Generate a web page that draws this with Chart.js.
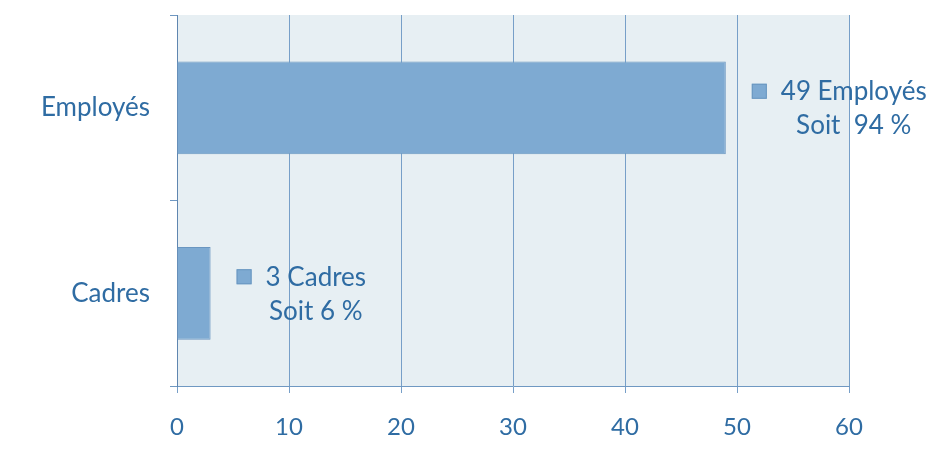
<!DOCTYPE html>
<html>
<head>
<meta charset="utf-8">
<script src="https://cdn.jsdelivr.net/npm/chart.js@4"></script>
<style>
  html, body { margin: 0; padding: 0; background: #fff; }
  #wrap { width: 931px; height: 455px; }
</style>
</head>
<body>
<div id="wrap"><canvas id="chart" width="931" height="455"></canvas></div>
<script>
const categories = ['Employés', 'Cadres'];
const counts = [49, 3];
const labelLines = [
    ['49 Employés', 'Soit  94 %'],
    ['3 Cadres', 'Soit 6 %'],
];
const xTicks = [0, 10, 20, 30, 40, 50, 60];

const textColor = '#2f6ca3';
const fontFamily = 'Lato, "Open Sans", sans-serif';

// light plot background
const plotBg = {
    id: 'plotBg',
    beforeDraw(chart) {
        const { ctx, chartArea: a } = chart;
        ctx.save();
        ctx.fillStyle = '#e7eff3';
        ctx.fillRect(a.left, a.top, a.right - a.left, a.bottom - a.top);
        ctx.restore();
    },
};

// square marker + two-line label next to each bar
const barLabels = {
    id: 'barLabels',
    afterDatasetsDraw(chart) {
        const { ctx } = chart;
        const meta = chart.getDatasetMeta(0);
        ctx.save();
        ctx.font = '26px ' + fontFamily;
        ctx.textBaseline = 'middle';
        ctx.textAlign = 'center';
        meta.data.forEach((bar, i) => {
            const lines = labelLines[i];
            const sqX = bar.x + 26;
            const yc = bar.y;
            ctx.fillStyle = '#7eaad2';
            ctx.strokeStyle = '#6a96c0';
            ctx.fillRect(sqX, yc - 24, 15, 15);
            ctx.strokeRect(sqX + 0.5, yc - 23.5, 14, 14);
            const w = ctx.measureText(lines[0]).width;
            const cx = sqX + 15 + 14 + w / 2;
            ctx.fillStyle = textColor;
            ctx.fillText(lines[0], cx, yc - 16);
            ctx.fillText(lines[1], cx, yc + 18);
        });
        ctx.restore();
    },
};

new Chart(document.getElementById('chart'), {
    type: 'bar',
    data: {
        labels: categories,
        datasets: [
            {
                data: counts,
                backgroundColor: '#7eaad2',
                borderColor: '#6a96c0',
                borderWidth: 1,
                borderSkipped: 'left',
                categoryPercentage: 1,
                barPercentage: 0.5,
            },
        ],
    },
    options: {
        indexAxis: 'y',
        responsive: false,
        animation: false,
        layout: { padding: { top: 15, right: 82, bottom: 0, left: 0 } },
        plugins: { legend: { display: false }, tooltip: { enabled: false } },
        scales: {
            x: {
                min: 0,
                max: 60,
                afterBuildTicks(scale) {
                    scale.ticks = xTicks.map(v => ({ value: v }));
                },
                afterFit(scale) { scale.height = 69; },
                grid: {
                    color: '#779fc8',
                    lineWidth: 1,
                    tickLength: 7,
                    drawTicks: true,
                },
                border: { display: true, color: '#6f98c2' },
                ticks: {
                    color: textColor,
                    font: { family: fontFamily, size: 24 },
                    padding: 20,
                },
            },
            y: {
                afterFit(scale) {
                    scale.width = 177;
                    scale.paddingTop = 0;
                    scale.paddingBottom = 0;
                },
                grid: {
                    offset: true,
                    drawOnChartArea: false,
                    color: '#6f98c2',
                    tickLength: 7,
                },
                border: { display: true, color: '#5f86b0' },
                ticks: {
                    color: textColor,
                    font: { family: fontFamily, size: 26 },
                    padding: 20,
                },
            },
        },
    },
    plugins: [plotBg, barLabels],
});
</script>
</body>
</html>
